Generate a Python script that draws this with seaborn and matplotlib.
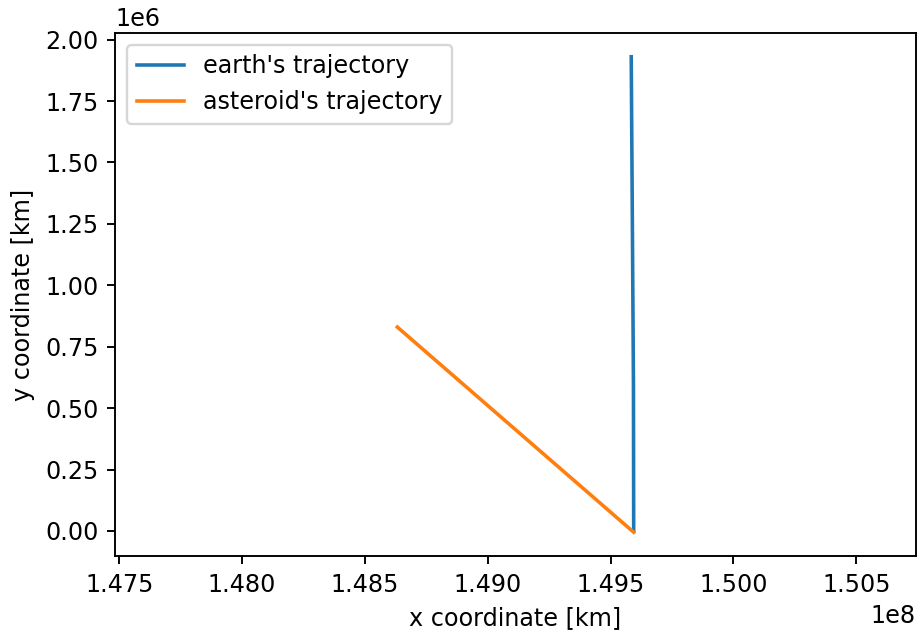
import matplotlib
matplotlib.use("Agg")
import matplotlib.pyplot as plt
import seaborn as sns
import numpy as np

# Data (km)
earth_x = [1.49594e8, 1.49593e8, 1.49589e8, 1.49584e8]
earth_y = [0.0, 0.6e6, 1.2e6, 1.93e6]
asteroid_x = [1.48632e8, 1.49594e8]
asteroid_y = [0.830e6, -0.005e6]

plt.rcParams.update(plt.rcParamsDefault)
plt.rcParams['font.family'] = ['DejaVu Sans']

DPI = 172
fig = plt.figure(figsize=(920/DPI, 633/DPI), dpi=DPI)
ax = fig.add_axes([115/920, 1-556/633, (916-115)/920, (556-33)/633])

sns.lineplot(x=earth_x, y=earth_y, sort=False, estimator=None, ax=ax,
             color='#1f77b4', label="earth's trajectory", linewidth=1.5)
sns.lineplot(x=asteroid_x, y=asteroid_y, sort=False, estimator=None, ax=ax,
             color='#ff7f0e', label="asteroid's trajectory", linewidth=1.5)

ax.axis('equal')
ax.set_xlabel('x coordinate [km]')
ax.set_ylabel('y coordinate [km]')
ax.legend(loc='upper left')

fig.savefig('out.png', dpi=DPI)
